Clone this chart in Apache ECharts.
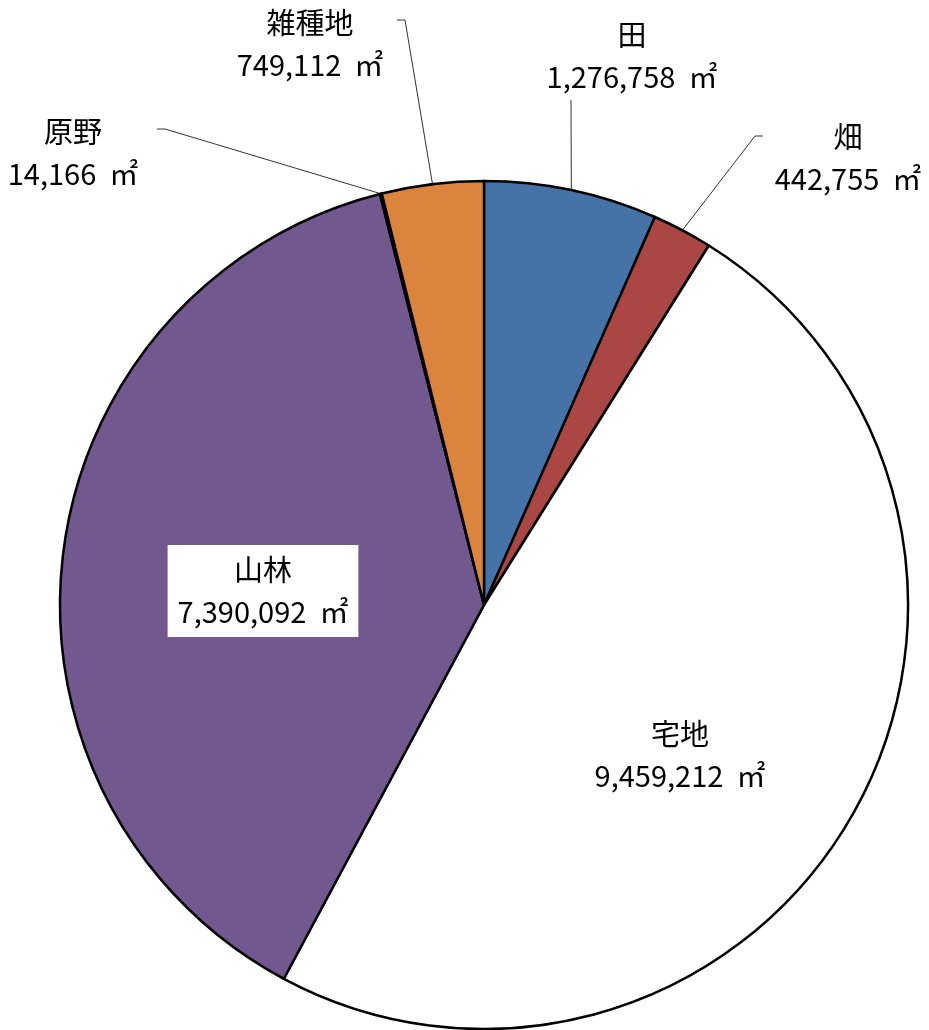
<!DOCTYPE html>
<html>
<head>
<meta charset="utf-8">
<script src="https://cdn.jsdelivr.net/npm/echarts@6/dist/echarts.min.js"></script>
<style>
html,body{margin:0;padding:0;background:#fff;}
#chart{width:929px;height:1030px;}
</style>
</head>
<body>
<div id="chart"></div>
<script>
var categories = ['田', '畑', '宅地', '山林', '原野', '雑種地'];
var values = [1276758, 442755, 9459212, 7390092, 14166, 749112];
var colors = ['#4572A7', '#AA4643', '#FFFFFF', '#71588F', '#4198AF', '#DB843D'];
var unit = '㎡';

// label block centres and label-line elbows (annotation layout)
var labelPlaces = [
  {x: 632, y: 56, line: [[571, 100]]},
  {x: 848, y: 158, line: [[755, 136], [763, 136]]},
  {x: 680, y: 755, inside: true},
  {x: 263, y: 591, inside: true, box: true},
  {x: 73, y: 153, line: [[165, 129], [157, 129]]},
  {x: 310, y: 44, line: [[405, 20], [397, 20]]}
];

var data = categories.map(function (c, i) {
  var item = {name: c, value: values[i], itemStyle: {color: colors[i]}};
  if (labelPlaces[i].inside) {
    item.label = {position: 'inside'};
    item.labelLine = {show: false};
    if (labelPlaces[i].box) {
      item.label.backgroundColor = '#fff';
      item.label.padding = [4, 10, 4, 10];
    }
  }
  return item;
});

var chart = echarts.init(document.getElementById('chart'));
chart.setOption({
  backgroundColor: '#fff',
  animation: false,
  series: [{
    type: 'pie',
    center: [484, 605],
    radius: 424,
    startAngle: 90,
    clockwise: true,
    avoidLabelOverlap: false,
    data: data,
    itemStyle: {borderColor: '#000', borderWidth: 2.5},
    emphasis: {disabled: true},
    label: {
      show: true,
      position: 'outside',
      fontFamily: '"Noto Sans CJK JP", sans-serif',
      fontSize: 29,
      lineHeight: 42,
      color: '#000',
      align: 'center',
      formatter: function (p) {
        return p.name + '\n' + p.value.toLocaleString('en-US') + '  ' + unit;
      }
    },
    labelLine: {
      show: true,
      smooth: false,
      lineStyle: {color: '#333', width: 1}
    },
    labelLayout: function (p) {
      var cfg = labelPlaces[p.dataIndex];
      var out = {x: cfg.x, y: cfg.y, align: 'center', verticalAlign: 'middle'};
      if (cfg.line && p.labelLinePoints) {
        out.labelLinePoints = [p.labelLinePoints[0]].concat(cfg.line);
      }
      return out;
    }
  }]
});
</script>
</body>
</html>
